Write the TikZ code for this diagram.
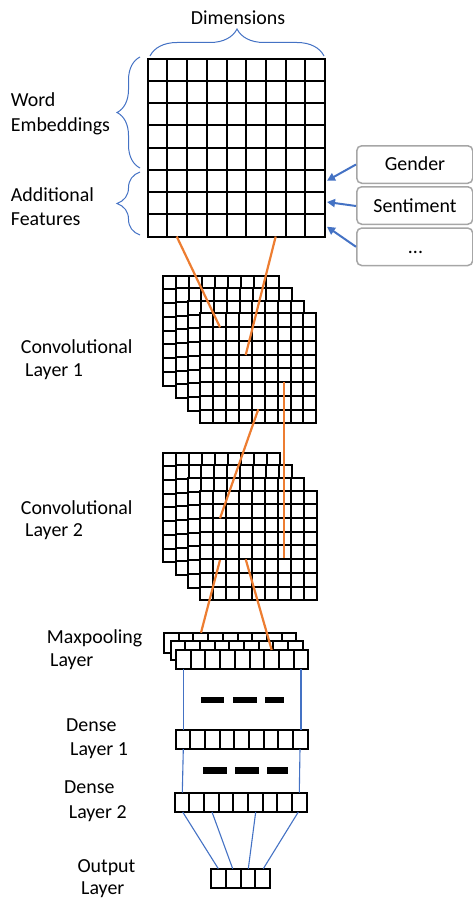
\documentclass[tikz,border=0pt]{standalone}
\usepackage{fontspec}
\setmainfont{Carlito}
\usetikzlibrary{arrows.meta,decorations.pathreplacing,calc}
\definecolor{obl}{HTML}{4472C4}
\definecolor{oor}{HTML}{ED7D31}
\definecolor{ogr}{HTML}{A6A6A6}
\newcommand{\cellgrid}[7]{% name, x, y, w, h, cols, rows
  \node[gridframe, minimum width=#4pt, minimum height=#5pt, anchor=north west] (#1) at (#2,#3) {};
  \pgfmathtruncatemacro{\cgc}{#6-1}
  \pgfmathtruncatemacro{\cgr}{#7-1}
  \foreach \i in {1,...,\cgc} {
    \draw[gridline] ($(#1.north west)+({#4*\i/#6},0)$) -- ($(#1.south west)+({#4*\i/#6},0)$);
  }
  \ifnum\cgr>0
  \foreach \j in {1,...,\cgr} {
    \draw[gridline] ($(#1.north west)+(0,{#5*\j/#7})$) -- ($(#1.north east)+(0,{#5*\j/#7})$);
  }
  \fi
}
\begin{document}
\begin{tikzpicture}[x=1pt,y=-1pt,
  gridframe/.style={draw=black, fill=white, line width=2pt, inner sep=0pt, outer sep=0pt},
  gridline/.style={draw=black, line width=2pt},
  lbl/.style={font=\fontsize{19.9}{24}\selectfont, inner sep=0pt, anchor=base west},
  featbox/.style={draw=ogr, line width=1.5pt, rounded corners=5pt, minimum width=116pt, minimum height=37.5pt, inner sep=0pt, anchor=north west},
  feattext/.style={font=\fontsize{19.9}{24}\selectfont, inner sep=0pt, anchor=base},
  bluearrow/.style={obl, line width=2pt, -{Triangle[length=8pt,width=8pt]}},
  bracestyle/.style={obl, line width=1pt, decorate},
  orangeline/.style={oor, line width=2.2pt},
  thinblue/.style={obl, line width=1.1pt},
  bar/.style={fill=black, draw=none}
]
\useasboundingbox (0,0) rectangle (473,899);

% ---------- input matrix ----------
\cellgrid{top}{147.7}{58.7}{177.3}{178}{9}{8}

% braces
\draw[bracestyle, decoration={brace, amplitude=27pt}] (150,56) -- (324,56);
\draw[bracestyle, decoration={brace, amplitude=23pt}] (140,168) -- (140,57);
\draw[bracestyle, decoration={brace, amplitude=23pt}] (140,235) -- (140,172);

\node[feattext] (tdim) at (238,25) {Dimensions};
\node[lbl] (tword) at (10.7,106) {Word};
\node[lbl] (temb) at (10.7,131.7) {Embeddings};
\node[lbl] (tadd) at (10.7,201) {Additional};
\node[lbl] (tfeat) at (10.7,225) {Features};

% feature boxes
\node[featbox] (gender) at (356,145) {};
\node[featbox] (senti) at (356,186) {};
\node[featbox] (more) at (356,227.3) {};
\node[feattext] at (415,170.7) {Gender};
\node[feattext] at (415,212) {Sentiment};
\node[feattext] at (415.5,253.3) {...};

\coordinate (ga) at (327,180.7);
\coordinate (sa) at (327,202);
\coordinate (ma) at (327,226.7);
\draw[bluearrow] (gender.west) -- (ga);
\draw[bluearrow] ($(senti.west)+(0,0.5)$) -- (sa);
\draw[bluearrow] (more.west) -- (ma);

% ---------- convolutional layer 1 ----------
\foreach \k in {0,1,2,3} {
  \cellgrid{cA\k}{163.3+12.33*\k}{275.7+12.53*\k}{116}{110}{9}{8}
}
\node[lbl] (tc1a) at (20.7,353.3) {Convolutional};
\node[lbl] (tc1b) at (25,376.7) {Layer 1};

% ---------- convolutional layer 2 ----------
\foreach \k in {0,1,2,3} {
  \cellgrid{cB\k}{163.3+12.33*\k}{452.7+12.67*\k}{116.3}{109.5}{9}{8}
}
\node[lbl] (tc2a) at (20.7,514.3) {Convolutional};
\node[lbl] (tc2b) at (25,536.7) {Layer 2};

% ---------- maxpooling ----------
\cellgrid{mp0}{164}{633.3}{132.3}{19.3}{9}{1}
\cellgrid{mp1}{170.5}{640.5}{132.3}{19.3}{9}{1}
\cellgrid{mp2}{176}{650}{132.3}{19.3}{9}{1}
\node[lbl] (tmpa) at (46.7,643.3) {Maxpooling};
\node[lbl] (tmpb) at (50,666.7) {Layer};

% ---------- dense ----------
\cellgrid{d1}{175.7}{730}{132}{19}{9}{1}
\cellgrid{d2}{174.7}{792.7}{132}{19.3}{9}{1}
\cellgrid{out}{211}{868.7}{59}{19}{4}{1}
\node[lbl] (td1a) at (66,731.7) {Dense};
\node[lbl] (td1b) at (70,755) {Layer 1};
\node[lbl] (td2a) at (64,793.3) {Dense};
\node[lbl] (td2b) at (68.7,818.3) {Layer 2};
\node[lbl] (touta) at (77.3,872.3) {Output};
\node[lbl] (toutb) at (81,894.5) {Layer};

% dash bars
\fill[bar] (200.7,696.7) rectangle (224.3,703.3);
\fill[bar] (232.7,696.7) rectangle (256.7,703.3);
\fill[bar] (265.3,696.7) rectangle (284.3,703.3);
\fill[bar] (202.7,767.3) rectangle (226.7,774.3);
\fill[bar] (235,767.3) rectangle (259,774.3);
\fill[bar] (267.3,767.3) rectangle (287.7,774.3);

% thin blue connections
\draw[thinblue] ($(mp2.south west)+(7.7,0)$) -- ($(d1.north west)+(8,0)$);
\draw[thinblue] ($(mp2.south west)+(125,0)$) -- ($(d1.north west)+(125.3,0)$);
\draw[thinblue] ($(d1.south west)+(7.6,0)$) -- ($(d2.north west)+(7.6,0)$);
\draw[thinblue] ($(d1.south west)+(124.3,0)$) -- ($(d2.north west)+(124.6,0)$);
\draw[thinblue] ($(d2.south west)+(8,0)$) -- ($(out.north west)+(7.3,0)$);
\draw[thinblue] ($(d2.south west)+(37.3,0)$) -- ($(out.north west)+(21.7,0)$);
\draw[thinblue] ($(d2.south west)+(81,0)$) -- ($(out.north west)+(37.3,0)$);
\draw[thinblue] ($(d2.south west)+(123.6,0)$) -- ($(out.north west)+(52.3,0)$);

% orange receptive-field lines
\coordinate (o1a) at (176.7,236.5); \coordinate (o1b) at (220,327.3);
\coordinate (o2a) at (275.7,236.5); \coordinate (o2b) at (245.7,355);
\coordinate (o3a) at (284.3,382);   \coordinate (o3b) at (284.3,558.3);
\coordinate (o4a) at (258.3,409.3); \coordinate (o4b) at (220,518.3);
\coordinate (o5a) at (220,560);     \coordinate (o5b) at (201,632.7);
\coordinate (o6a) at (245.7,559.3); \coordinate (o6b) at (271.7,650);
\draw[orangeline] (o1a) -- (o1b);
\draw[orangeline] (o2a) -- (o2b);
\draw[orangeline] (o3a) -- (o3b);
\draw[orangeline] (o4a) -- (o4b);
\draw[orangeline] (o5a) -- (o5b);
\draw[orangeline] (o6a) -- (o6b);
\end{tikzpicture}
\end{document}
